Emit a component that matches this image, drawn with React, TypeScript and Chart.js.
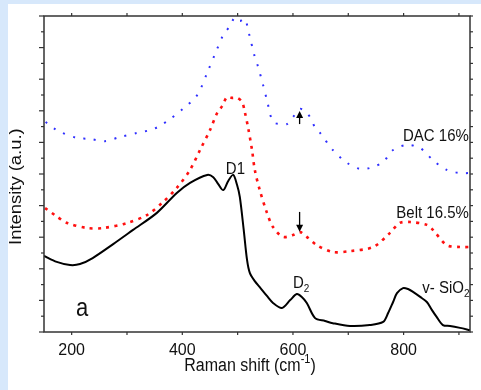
import { useEffect, useRef } from "react";
import { Chart, registerables } from "chart.js";

Chart.register(...registerables);

// v-SiO2 reference spectrum (solid black)
const glassShift = [150, 173, 197, 215, 238, 275, 311, 354, 390, 414, 445, 456, 465, 474, 483, 492, 499, 504, 511, 517, 522, 531, 540, 553, 564, 580, 595, 607, 616, 625, 640, 658, 672, 703, 739, 763, 772, 781, 788, 799, 808, 817, 830, 842, 851, 860, 871, 884, 902, 920];
const glassIntensity = [2.41, 2.22, 2.12, 2.15, 2.34, 2.78, 3.23, 3.77, 4.40, 4.72, 4.97, 4.90, 4.68, 4.49, 4.78, 4.97, 4.65, 4.27, 3.23, 2.28, 1.87, 1.61, 1.42, 1.14, 0.92, 0.76, 1.01, 1.20, 1.11, 0.92, 0.44, 0.35, 0.28, 0.19, 0.22, 0.32, 0.60, 0.95, 1.23, 1.39, 1.36, 1.27, 1.11, 0.95, 0.70, 0.47, 0.22, 0.19, 0.13, 0.06];

// Belt-press sample, 16.5% (red dotted)
const beltShift = [152, 172, 192, 228, 257, 300, 336, 365, 390, 414, 432, 450, 463, 472, 481, 490, 499, 508, 513, 519, 526, 531, 540, 553, 564, 582, 600, 613, 625, 643, 672, 703, 745, 775, 793, 812, 842, 853, 878, 902, 920];
const beltIntensity = [3.92, 3.67, 3.45, 3.29, 3.29, 3.45, 3.70, 4.11, 4.56, 5.13, 5.76, 6.39, 6.93, 7.15, 7.44, 7.41, 7.41, 7.28, 6.96, 6.46, 5.76, 5.13, 4.49, 3.77, 3.32, 3.01, 3.07, 3.16, 3.01, 2.75, 2.53, 2.56, 2.69, 3.13, 3.45, 3.48, 3.39, 3.23, 2.75, 2.69, 2.69];

// Diamond-anvil-cell sample, 16% (blue dotted)
const dacShift = [153, 161, 170, 179, 210, 233, 260, 287, 318, 342, 356, 378, 401, 427, 447, 463, 474, 486, 495, 504, 513, 522, 530, 537, 546, 553, 564, 580, 589, 600, 613, 625, 633, 640, 649, 672, 698, 721, 739, 763, 781, 806, 830, 853, 878, 902, 920];
const dacIntensity = [6.65, 6.52, 6.42, 6.33, 6.14, 6.11, 6.04, 6.17, 6.30, 6.39, 6.49, 6.74, 7.06, 7.50, 8.29, 8.96, 9.40, 9.68, 9.95, 9.84, 9.91, 9.34, 8.77, 8.39, 7.82, 7.34, 6.65, 6.58, 6.58, 6.80, 7.06, 6.93, 6.74, 6.46, 6.30, 5.76, 5.35, 5.16, 5.19, 5.38, 5.76, 5.92, 5.82, 5.44, 5.13, 5.03, 5.03];

// Axis ticks
const xTickValues = [200, 300, 400, 500, 600, 700, 800, 900];
const xTickLabels = [200, 400, 600, 800];

const FONT = 'Arial, "Liberation Sans", Helvetica, sans-serif';
const STRETCH = 1.15;

type Part = { t: string; sub?: boolean; sup?: boolean };
type Note = { parts: Part[]; x: number; y: number; align: "left" | "center" | "right"; size: number };

// Peak labels and sample names, anchored in data units (baseline position)
const notes: Note[] = [
  { parts: [{ t: "D1" }], x: 496, y: 5.0, align: "center", size: 15 },
  { parts: [{ t: "DAC 16%" }], x: 918, y: 6.04, align: "right", size: 15 },
  { parts: [{ t: "Belt 16.5%" }], x: 918, y: 3.61, align: "right", size: 15 },
  { parts: [{ t: "D" }, { t: "2", sub: true }], x: 600, y: 1.39, align: "left", size: 15 },
  { parts: [{ t: "v- SiO" }, { t: "2", sub: true }], x: 919, y: 1.23, align: "right", size: 15 },
  { parts: [{ t: "a" }], x: 208, y: 0.51, align: "left", size: 22 },
];

// Arrows marking the D2 band: [shift, from, to]
const arrows: [number, number, number][] = [
  [612, 6.58, 6.99],
  [612, 3.8, 3.17],
];

function drawParts(ctx: CanvasRenderingContext2D, parts: Part[], x: number, y: number, align: string, size: number) {
  const small = Math.round(size * 0.68);
  const widths = parts.map((p) => {
    ctx.font = `${p.sub || p.sup ? small : size}px ${FONT}`;
    return ctx.measureText(p.t).width;
  });
  const total = widths.reduce((a, b) => a + b, 0);
  let cx = align === "center" ? x - total / 2 : align === "right" ? x - total : x;
  ctx.save();
  ctx.translate(0, y);
  ctx.scale(1, STRETCH);
  ctx.textBaseline = "alphabetic";
  ctx.textAlign = "left";
  parts.forEach((p, i) => {
    ctx.font = `${p.sub || p.sup ? small : size}px ${FONT}`;
    const dy = p.sub ? size * 0.22 : p.sup ? -size * 0.42 : 0;
    ctx.fillText(p.t, cx, dy);
    cx += widths[i];
  });
  ctx.restore();
}

const framePlugin = {
  id: "frameAndNotes",
  afterDraw(chart: any) {
    const { ctx, chartArea: a } = chart;
    const xs = chart.scales.x;
    const ys = chart.scales.y;
    ctx.save();
    ctx.strokeStyle = "#333";
    ctx.lineWidth = 1.5;
    ctx.strokeRect(a.left, a.top, a.right - a.left, a.bottom - a.top);

    ctx.lineWidth = 1.2;
    const seg = (x1: number, y1: number, x2: number, y2: number) => {
      ctx.beginPath();
      ctx.moveTo(x1, y1);
      ctx.lineTo(x2, y2);
      ctx.stroke();
    };
    xTickValues.forEach((v) => {
      const px = xs.getPixelForValue(v);
      seg(px, a.bottom, px, a.bottom + 3);
      seg(px, a.top, px, a.top - 3);
    });
    for (let i = 0; i <= 20; i++) {
      const v = i / 2;
      const py = ys.getPixelForValue(v);
      const major = i % 2 === 0;
      seg(a.left - (major ? 5 : 3), py, a.left, py);
      seg(a.right, py, a.right + 3, py);
    }

    ctx.fillStyle = "#111";
    notes.forEach((n) => {
      drawParts(ctx, n.parts, xs.getPixelForValue(n.x), ys.getPixelForValue(n.y), n.align, n.size);
    });

    // arrows
    ctx.strokeStyle = "#000";
    ctx.fillStyle = "#000";
    ctx.lineWidth = 1.3;
    arrows.forEach(([s, from, to]) => {
      const px = xs.getPixelForValue(s);
      const y1 = ys.getPixelForValue(from);
      const y2 = ys.getPixelForValue(to);
      const dir = Math.sign(y2 - y1);
      seg(px, y1, px, y2 - dir * 5);
      ctx.beginPath();
      ctx.moveTo(px, y2);
      ctx.lineTo(px - 3.5, y2 - dir * 7);
      ctx.lineTo(px + 3.5, y2 - dir * 7);
      ctx.closePath();
      ctx.fill();
    });

    // axis titles
    ctx.fillStyle = "#111";
    drawParts(
      ctx,
      [{ t: "Raman shift (cm" }, { t: "-1", sup: true }, { t: ")" }],
      (a.left + a.right) / 2 - 7,
      a.bottom + 39,
      "center",
      16
    );
    ctx.save();
    ctx.translate(a.left - 27.5, ys.getPixelForValue(4.6));
    ctx.scale(1, STRETCH);
    ctx.rotate(-Math.PI / 2);
    ctx.font = `16px ${FONT}`;
    ctx.textAlign = "center";
    ctx.textBaseline = "middle";
    ctx.fillText("Intensity (a.u.)", 0, 0);
    ctx.restore();

    ctx.restore();
  },
};

const toPoints = (xs: number[], ys: number[]) => xs.map((x, i) => ({ x, y: ys[i] }));

export default function App() {
  const ref = useRef<HTMLCanvasElement | null>(null);

  useEffect(() => {
    if (!ref.current) return;
    const chart = new Chart(ref.current, {
      type: "line",
      data: {
        datasets: [
          {
            label: "DAC 16%",
            data: toPoints(dacShift, dacIntensity),
            borderColor: "#2f2fff",
            borderWidth: 2,
            borderDash: [2, 8.5],
            pointRadius: 0,
            tension: 0.3,
            fill: false,
          },
          {
            label: "Belt 16.5%",
            data: toPoints(beltShift, beltIntensity),
            borderColor: "#ff1010",
            borderWidth: 2.6,
            borderDash: [3, 5.3],
            pointRadius: 0,
            tension: 0.3,
            fill: false,
          },
          {
            label: "v-SiO2",
            data: toPoints(glassShift, glassIntensity),
            borderColor: "#000",
            borderWidth: 2,
            pointRadius: 0,
            tension: 0.3,
            fill: false,
          },
        ],
      },
      options: {
        responsive: false,
        maintainAspectRatio: false,
        animation: false,
        layout: { padding: { top: 12, right: 11, left: 0, bottom: 0 } },
        plugins: { legend: { display: false }, tooltip: { enabled: false } },
        scales: {
          x: {
            type: "linear",
            min: 150,
            max: 920,
            grid: { display: false, drawTicks: false },
            border: { display: false },
            afterBuildTicks: (s: any) => {
              s.ticks = xTickValues.map((v) => ({ value: v }));
            },
            afterFit: (s: any) => {
              s.height = 58;
            },
            ticks: {
              autoSkip: false,
              maxRotation: 0,
              padding: 9,
              color: "#111",
              font: { size: 16, family: FONT },
              callback: (v: any) => (xTickLabels.includes(Number(v)) ? String(v) : ""),
            },
          },
          y: {
            type: "linear",
            min: 0,
            max: 10,
            grid: { display: false, drawTicks: false },
            border: { display: false },
            ticks: { display: false },
            afterFit: (s: any) => {
              s.width = 36;
            },
          },
        },
      },
      plugins: [framePlugin],
    });
    return () => chart.destroy();
  }, []);

  return (
    <div style={{ position: "fixed", left: 0, top: 0, width: "100vw", height: "100vh", background: "#d7e8fb", overflow: "hidden" }}>
      <div style={{ position: "absolute", left: 8, top: 4, right: 0, bottom: 0, background: "#fff" }}>
        <canvas ref={ref} width={473} height={386} style={{ display: "block" }} />
      </div>
    </div>
  );
}
